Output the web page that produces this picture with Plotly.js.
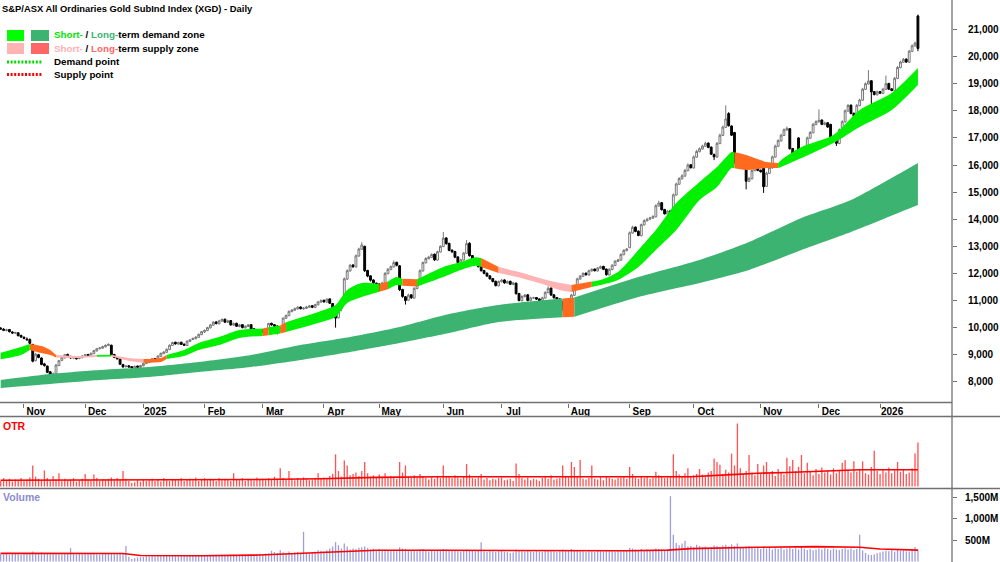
<!DOCTYPE html>
<html><head><meta charset="utf-8">
<script src="https://cdn.plot.ly/plotly-3.0.1.min.js"></script>
<style>html,body{margin:0;padding:0;background:#fff;}#chart{width:1000px;height:562px;}</style>
</head><body><div id="chart"></div>
<script>
// ---------- DATA ----------
const startDate = '2024-10-22', endDate = '2026-01-21';
const holidays = ['2024-12-25','2024-12-26','2025-01-01','2025-01-27','2025-04-18','2025-04-21','2025-04-25','2025-06-09','2025-12-25','2025-12-26','2026-01-01'];
const monthLabels = ['Nov','Dec','2025','Feb','Mar','Apr','May','Jun','Jul','Aug','Sep','Oct','Nov','Dec','2026'];
const priceTicks = [8000,9000,10000,11000,12000,13000,14000,15000,16000,17000,18000,19000,20000,21000];
const volumeTicks = [500,1000,1500];
const volumeTickLabels = ['500M','1,000M','1,500M'];

const priceOpen = [
9980,9940,9890,9930,9840,9790,9810,9710,9640,9580,
9560,9380,8780,9000,8880,8660,8580,8370,8240,8310,
8600,8790,8880,9010,8940,8870,8930,8860,8890,8960,
9010,8940,9040,9140,9230,9240,9290,9340,9350,9010,
8910,8840,8640,8560,8590,8560,8510,8580,8530,8590,
8670,8710,8790,8860,8830,8940,9040,9090,9190,9340,
9460,9390,9460,9390,9340,9490,9560,9590,9640,9740,
9840,9890,9990,10090,10210,10140,10240,10310,10190,10260,
10090,10160,10040,10110,9990,10040,10110,9960,9910,9840,
9910,9840,9940,10160,10110,10060,9890,10010,10340,10440,
10590,10640,10690,10760,10690,10710,10750,10810,10740,10840,
10940,11010,10940,11060,10890,10540,10360,10690,11000,11790,
12090,12310,12240,12640,12890,13000,12110,11910,11760,11640,
11610,11390,11640,11990,12140,12240,12410,12280,11410,11140,
11010,11210,11090,11440,11590,12090,12390,12540,12590,12710,
12490,12790,12990,13310,13110,12860,12810,12610,12390,12490,
12740,13110,12660,12510,12410,12260,12110,12010,11910,11810,
11710,11540,11690,11760,11640,11710,11590,11640,11260,10990,
11140,11210,10990,11090,11110,11060,10990,11090,11290,11460,
11210,11110,11060,10960,10740,10790,10840,11190,11540,11790,
11890,12010,11940,12090,12160,12090,12190,12260,12160,11940,
12140,12290,12440,12490,12690,12840,12950,13490,13710,13560,
13390,13790,13940,14010,14040,14090,14490,14610,14360,14190,
14310,14300,14890,15290,15490,15590,15790,16010,15890,16290,
16490,16590,16690,16810,16660,16390,16290,16790,17090,17390,
17900,17440,17200,16090,16110,16210,16100,15390,15490,15790,
15910,15810,16000,15210,15690,15890,16290,16690,16890,17090,
17290,17340,16610,16290,17000,16310,16390,16590,16990,17190,
17490,17590,17660,17490,17560,17500,17010,16910,16790,17290,
17590,17990,18210,17910,17790,18190,18390,18790,18990,19110,
18710,18590,18710,18640,18790,19010,18810,18740,19190,19590,
19790,19910,19790,20190,20390,21500];
const priceHigh = [
10020,9980,9960,9950,9870,9850,9830,9740,9680,9640,
9600,9400,9060,9030,8900,8700,8600,8400,8340,8650,
8800,8930,9030,9040,8960,8950,8950,8920,8980,9030,
9030,9080,9180,9250,9280,9330,9380,9420,9370,9030,
8950,8860,8660,8610,8610,8580,8600,8600,8630,8710,
8750,8830,8880,8880,8980,9080,9130,9230,9380,9480,
9480,9480,9480,9410,9530,9580,9630,9680,9780,9880,
9930,10030,10130,10240,10240,10290,10340,10330,10290,10280,
10190,10180,10130,10130,10080,10130,10130,9980,9930,9930,
9930,9980,10180,10180,10130,10080,10030,10380,10480,10630,
10680,10740,10790,10780,10760,10800,10830,10830,10880,10980,
11040,11030,11080,11080,10910,10600,10740,10940,11850,12150,
12350,12340,12700,12950,13150,13020,12130,11930,11780,11660,
11630,11690,12050,12200,12290,12480,12430,12300,11430,11160,
11250,11230,11490,11640,12150,12440,12600,12650,12740,12730,
12840,13040,13530,13330,13130,12880,12830,12630,12540,12790,
13230,13150,12680,12530,12430,12280,12130,12030,11930,11830,
11730,11740,11790,11780,11740,11730,11690,11660,11280,11190,
11240,11230,11140,11140,11130,11080,11140,11340,11520,11480,
11230,11130,11080,10980,10840,10890,11240,11590,11840,11940,
12040,12030,12140,12190,12180,12240,12290,12280,12180,12190,
12340,12490,12540,12740,12890,12940,13550,13760,13730,13580,
13840,13990,14050,14090,14150,14550,14680,14630,14380,14340,
14330,14950,15350,15550,15660,15860,16060,16030,16350,16560,
16650,16750,16860,16830,16680,16420,16850,17160,17460,18200,
17950,17460,17220,16250,16260,16230,16120,15560,15850,15950,
15930,15830,16020,15750,15950,16350,16750,16950,17150,17350,
17420,17360,16630,16550,17020,16450,16650,17050,17250,17550,
17650,18050,17680,17600,17580,17520,17030,16930,17350,17650,
18050,18250,18230,17930,18250,18450,18850,19050,19500,19130,
18730,18750,18730,18850,19300,19030,18830,19250,19650,19850,
19950,19930,20250,20450,20550,21550];
const priceLow = [
9920,9870,9860,9820,9770,9760,9680,9620,9570,9520,
9390,8720,8750,8870,8610,8560,8320,8180,8200,8290,
8580,8760,8860,8920,8850,8840,8820,8830,8870,8930,
8920,8920,9020,9120,9190,9220,9270,9320,8980,8870,
8820,8620,8520,8530,8520,8490,8500,8510,8520,8570,
8650,8690,8770,8790,8810,8920,9020,9070,9170,9320,
9370,9370,9360,9320,9330,9470,9540,9570,9620,9720,
9800,9870,9970,10070,10120,10120,10220,10170,10170,10070,
10060,10020,10010,9970,9970,10020,9920,9870,9820,9810,
9800,9820,9920,10070,10020,9750,9870,9990,10320,10420,
10570,10620,10670,10670,10660,10690,10730,10720,10720,10820,
10920,10920,10920,10870,10500,10000,10340,10600,10980,11760,
12070,12200,12220,12620,12870,12050,11860,11700,11610,11550,
11350,11370,11620,11970,12120,12220,12260,11350,11100,10850,
10990,11060,11070,11420,11570,12070,12370,12520,12570,12460,
12470,12770,12970,13060,12820,12750,12560,12350,12370,12470,
12720,12620,12470,12370,12220,12070,11970,11870,11770,11670,
11520,11520,11670,11620,11620,11570,11570,11220,10970,10970,
11120,10970,10970,11070,11020,10970,10970,11070,11270,11170,
11070,11020,10920,10620,10700,10770,10820,11170,11520,11770,
11870,11920,11920,12070,12070,12070,12170,12120,11920,11920,
12120,12270,12420,12470,12670,12820,12930,13470,13520,13370,
13370,13770,13920,13960,14020,14070,14470,14320,14170,14170,
14170,14280,14870,15270,15470,15570,15770,15870,15870,16270,
16470,16570,16670,16620,16370,16180,16270,16770,17070,17370,
17420,17070,16050,15950,16090,16020,15100,15370,15470,15770,
15770,15720,14970,15190,15670,15870,16270,16670,16870,17070,
17270,16570,16270,16270,16270,16290,16370,16570,16970,17170,
17470,17570,17470,17470,17370,16970,16870,16700,16770,17270,
17570,17970,17870,17770,17770,18170,18370,18770,18970,18150,
18570,18570,18620,18620,18770,18770,18720,18720,19170,19570,
19770,19770,19770,20170,20370,20200];
const priceClose = [
9950,9900,9920,9850,9800,9820,9700,9650,9600,9550,
9420,8760,9020,8900,8640,8600,8350,8250,8300,8620,
8780,8900,9000,8950,8880,8920,8850,8900,8950,9000,
8950,9050,9150,9220,9250,9300,9350,9380,9000,8900,
8850,8650,8550,8580,8550,8520,8570,8540,8600,8680,
8720,8800,8850,8820,8950,9050,9100,9200,9350,9450,
9400,9450,9380,9350,9500,9550,9600,9650,9750,9850,
9900,10000,10100,10200,10150,10250,10300,10200,10250,10100,
10150,10050,10100,10000,10050,10100,9950,9900,9850,9900,
9850,9950,10150,10100,10050,9900,10000,10350,10450,10600,
10650,10700,10750,10700,10720,10760,10800,10750,10850,10950,
11000,10950,11050,10900,10550,10350,10700,10900,11800,12100,
12300,12250,12650,12900,13050,12100,11900,11750,11650,11600,
11400,11650,12000,12150,12250,12400,12300,11400,11150,11000,
11200,11100,11450,11600,12100,12400,12550,12600,12700,12500,
12800,13000,13300,13100,12850,12800,12600,12400,12500,12750,
13100,12650,12500,12400,12250,12100,12000,11900,11800,11700,
11550,11700,11750,11650,11700,11600,11650,11250,11000,11150,
11200,11000,11100,11100,11050,11000,11100,11300,11450,11200,
11100,11050,10950,10750,10800,10850,11200,11550,11800,11900,
12000,11950,12100,12150,12100,12200,12250,12150,11950,12150,
12300,12450,12500,12700,12850,12900,13500,13700,13550,13400,
13800,13950,14000,14050,14100,14500,14600,14350,14200,14300,
14200,14900,15300,15500,15600,15800,16000,15900,16300,16500,
16600,16700,16800,16650,16400,16300,16800,17100,17400,17700,
17450,17100,16100,16100,16200,16050,15400,15500,15800,15900,
15800,15750,15200,15700,15900,16300,16700,16900,17100,17300,
17350,16600,16300,16500,16300,16400,16600,17000,17200,17500,
17600,17650,17500,17550,17400,17000,16900,16800,17300,17600,
18000,18200,17900,17800,18200,18400,18800,19000,19100,18700,
18600,18700,18650,18800,19000,18800,18750,19200,19600,19800,
19900,19800,20200,20400,20500,20300];

const otr = [
8,12,9,11,7,10,9,12,8,10,
13,30,14,11,9,23,12,9,15,10,
19,8,11,9,10,12,7,9,11,18,
10,9,17,12,8,10,9,11,13,9,
12,10,22,11,8,5,6,9,7,10,
8,9,11,8,10,7,12,9,8,11,
10,9,12,8,10,11,9,13,8,10,
12,9,11,10,8,12,9,11,10,8,
19,10,9,12,8,11,10,9,13,10,
11,9,12,10,14,11,26,12,10,22,
11,9,12,10,13,11,9,10,12,19,
11,13,12,15,18,46,22,14,37,30,
16,18,20,15,22,35,19,14,16,12,
17,14,19,12,15,13,11,35,20,30,
14,12,16,13,18,15,12,10,13,11,
14,12,30,15,14,12,16,13,11,14,
32,17,12,11,13,18,10,12,9,11,
10,12,13,9,10,11,8,33,18,12,
10,13,9,11,10,8,12,14,11,16,
10,11,12,30,15,13,35,28,14,38,
11,10,12,30,11,10,13,9,14,12,
11,10,12,13,14,11,28,18,13,11,
15,12,14,11,13,21,16,14,12,13,
15,46,22,17,15,19,26,14,16,18,
25,17,15,20,22,40,35,31,18,24,
20,47,30,90,26,18,22,45,20,16,
32,19,30,35,18,22,15,25,20,17,
41,29,38,22,28,45,19,34,21,16,
25,18,27,20,23,17,26,19,22,34,
38,24,20,36,21,25,36,19,17,28,
51,22,18,25,20,27,19,23,35,21,
24,18,20,26,47,63];

const volume = [ // millions
180,170,190,160,175,185,170,165,180,175,
190,230,200,185,210,195,180,200,175,190,
185,170,180,195,310,175,165,180,170,190,
185,175,180,170,165,185,175,180,200,190,
175,185,190,360,110,60,80,95,100,110,
120,125,130,120,135,125,130,140,135,130,
145,125,130,140,135,130,145,135,140,150,
145,140,150,145,155,150,160,155,150,160,
165,155,160,165,170,160,175,165,170,180,
175,185,190,250,220,200,260,215,190,230,
200,210,220,200,690,210,195,220,230,260,
250,240,260,300,350,450,380,300,420,350,
280,300,290,320,330,350,310,280,300,270,
290,260,280,270,250,260,240,330,300,290,
260,250,270,240,280,290,260,230,250,240,
260,270,290,280,260,250,270,240,230,260,
280,270,250,240,260,450,230,220,240,230,
220,240,250,230,220,200,210,280,260,240,
230,250,230,220,240,230,220,250,260,240,
230,220,240,280,260,250,290,270,250,240,
230,220,240,230,220,250,240,230,260,250,
240,230,250,240,260,270,320,300,280,260,
290,270,280,260,270,300,290,280,270,260,
1520,620,430,380,420,480,350,360,330,390,
360,340,350,320,330,380,360,340,370,390,
350,400,360,420,330,310,350,360,320,300,
340,290,350,300,330,280,310,290,320,280,
300,320,290,310,280,350,300,270,290,260,
280,300,280,310,290,270,300,280,270,290,
310,280,300,270,290,620,260,200,160,150,
170,190,210,230,250,240,260,230,270,250,
260,240,230,280,340,280];

const otrAvgDates = ['2024-10-22','2024-11-29','2024-12-31','2025-01-31','2025-02-28','2025-03-31','2025-04-30','2025-05-30','2025-06-30','2025-07-31','2025-08-29','2025-09-30','2025-10-20','2025-10-31','2025-11-14','2025-11-28','2025-12-19','2026-01-21'];
const otrAvg = [9,9,9,9,10,11,13,14,14,13,13,14,17,19,20,22,24,24];
const volAvgDates = ['2024-10-22','2024-11-29','2024-12-19','2024-12-31','2025-01-31','2025-02-28','2025-03-31','2025-04-30','2025-05-30','2025-06-30','2025-07-31','2025-08-29','2025-09-18','2025-09-30','2025-10-31','2025-11-28','2025-12-19','2026-01-02','2026-01-21'];
const volAvg = [190,190,185,140,135,150,200,260,260,255,245,250,265,300,330,345,330,290,265];

// Short-term zone: d = demand, s = supply, x = transition
const stDates = ['2024-10-22','2024-10-31','2024-11-05','2024-11-11','2024-11-14','2024-11-18','2024-11-28','2024-12-06','2024-12-13','2024-12-23',
 '2025-01-02','2025-01-10','2025-01-14','2025-01-22','2025-01-30','2025-02-10','2025-02-19','2025-03-03','2025-03-05','2025-03-11',
 '2025-03-13','2025-03-28','2025-04-07','2025-04-11','2025-04-22','2025-05-01','2025-05-06','2025-05-09','2025-05-13','2025-05-20',
 '2025-06-02','2025-06-11','2025-06-18','2025-06-20','2025-06-30','2025-07-09','2025-07-18','2025-07-29','2025-08-04','2025-08-13',
 '2025-08-18','2025-08-26','2025-09-04','2025-09-12','2025-09-23','2025-10-03','2025-10-13','2025-10-20','2025-10-21','2025-10-27',
 '2025-11-05','2025-11-11','2025-11-12','2025-11-21','2025-12-08','2025-12-19','2026-01-08','2026-01-21'];
const stUpper = [9075,9285,9395,9320,9174,8990,8950,8990,9000,8880,
 8840,8880,8990,9175,9430,9650,9910,9970,10010,10080,
 10200,10576,10835,11390,11646,11600,11700,11868,11800,11780,
 12237,12421,12600,12570,12237,12050,11831,11646,11572,11700,
 11757,12052,12864,13602,14598,15373,15927,16480,16470,16370,
 16111,16070,16180,16665,17108,18030,18657,19580];
const stLower = [8830,8990,9175,9060,8990,8900,8880,8925,8930,8770,
 8700,8730,8840,8950,9175,9360,9620,9690,9720,9780,
 9840,10170,10390,10910,11130,11320,11420,11572,11540,11520,
 11868,12126,12280,12240,12016,11850,11646,11388,11314,11500,
 11572,11757,12237,12864,13602,14709,15189,15890,15880,15816,
 15890,15890,15930,16259,16812,17403,18030,18952];
const stState = ['d','d','x','x','x','s','s','d','s','s',
 'x','x','d','d','d','d','d','x','d','x',
 'd','d','d','d','d','x','d','d','x','d',
 'd','d','d','x','s','s','s','s','x','d',
 'd','d','d','d','d','d','d','d','x','x',
 'x','d','d','d','d','d','d','d'];

const ltDates = ['2024-10-22','2024-11-14','2024-12-09','2025-01-06','2025-01-30','2025-02-25','2025-03-20','2025-04-14','2025-05-12','2025-06-04',
 '2025-06-30','2025-07-30','2025-08-05','2025-09-04','2025-10-03','2025-10-28','2025-11-21','2025-12-16','2026-01-13','2026-01-21'];
const ltUpper = [8067,8288,8436,8547,8731,8990,9359,9654,10023,10502,10835,11070,11110,11868,12495,13159,14045,14709,15705,16074];
const ltLower = [7772,7919,8067,8178,8362,8547,8805,9100,9432,9801,10207,10385,10400,11130,11646,12126,12864,13528,14266,14525];
const ltState = ['d','d','d','d','d','d','d','d','d','d','d','x','d','d','d','d','d','d','d','d'];

// ---------- BUILD ----------
const dates = [];
(function(){
  const hol = new Set(holidays);
  let t = Date.parse(startDate + 'T00:00:00Z');
  const end = Date.parse(endDate + 'T00:00:00Z');
  while (t <= end) {
    const d = new Date(t); const wd = d.getUTCDay(); const s = d.toISOString().slice(0,10);
    if (wd !== 0 && wd !== 6 && !hol.has(s)) dates.push(s);
    t += 86400000;
  }
})();
const pos = {}; dates.forEach((d,i)=>{pos[d]=i;});
const xi = dates.map((d,i)=>i);
const tickIdx = [];
for (let i=1;i<dates.length;i++) if (dates[i].slice(0,7)!==dates[i-1].slice(0,7)) tickIdx.push(i);

const W = 952, H = 562;
const PX = x => x / W, PY = y => 1 - y / H;

function bandTraces(nd, up, lo, st, colors, yaxis) {
  const xs = nd.map(d => pos[d]);
  const out = [];
  let s = 0;
  for (let i = 1; i <= xs.length; i++) {
    if (i === xs.length || st[i] !== st[s]) {
      const e = Math.min(i, xs.length - 1);
      const xr = xs.slice(s, e + 1);
      const ln = {width:0, shape:'spline', smoothing:0.7};
      out.push({type:'scatter', mode:'lines', x:xr, y:lo.slice(s, e + 1), line:ln, hoverinfo:'skip', showlegend:false, yaxis:yaxis});
      out.push({type:'scatter', mode:'lines', x:xr, y:up.slice(s, e + 1), line:ln, fill:'tonexty', fillcolor:colors[st[s]], hoverinfo:'skip', showlegend:false, yaxis:yaxis});
      s = i;
    }
  }
  return out;
}

const traces = [];
traces.push(...bandTraces(ltDates, ltUpper, ltLower, ltState, {d:'#3cb371', x:'#ff6a1f', s:'#ff6666'}, 'y'));
traces.push(...bandTraces(stDates, stUpper, stLower, stState, {d:'#00f000', x:'#ff6a1f', s:'#ffb3b3'}, 'y'));

traces.push({
  type:'candlestick', x:xi, open:priceOpen, high:priceHigh, low:priceLow, close:priceClose,
  increasing:{line:{color:'#777777', width:1}, fillcolor:'#ffffff'},
  decreasing:{line:{color:'#000000', width:1}, fillcolor:'#000000'},
  whiskerwidth:0, hoverinfo:'skip', showlegend:false, xaxis:'x', yaxis:'y'
});

traces.push({type:'bar', x:xi, y:otr, width:0.45, marker:{color:'#ff5252', line:{width:0}}, yaxis:'y2', hoverinfo:'skip', showlegend:false});
traces.push({type:'scatter', mode:'lines', x:otrAvgDates.map(d=>pos[d]), y:otrAvg, line:{color:'#ff0000', width:1.6}, yaxis:'y2', hoverinfo:'skip', showlegend:false});
traces.push({type:'bar', x:xi, y:volume, width:0.45, marker:{color:'#9e9edc', line:{width:0}}, yaxis:'y3', hoverinfo:'skip', showlegend:false});
traces.push({type:'scatter', mode:'lines', x:volAvgDates.map(d=>pos[d]), y:volAvg, line:{color:'#ff0000', width:1.6}, yaxis:'y3', hoverinfo:'skip', showlegend:false});

const SANS = '"Liberation Sans", Arial, sans-serif';
const tickFont = {family:SANS, size:10, color:'#000000', weight:'bold'};
const gridCol = '#707070';

function ann(x, y, text, size, color) {
  return {xref:'paper', yref:'paper', x:PX(x), y:PY(y), xanchor:'left', yanchor:'middle', showarrow:false,
          text:text, font:{family:SANS, size:size, color:color||'#000'}, borderpad:0};
}

const annotations = [
  ann(1, 8.5, '<b>S&P/ASX All Ordinaries Gold SubInd Index (XGD) - Daily</b>', 9.4),
  ann(53, 35, '<b><span style="color:#00e600">Short-</span> / <span style="color:#3cb371">Long-</span>term demand zone</b>', 9.8),
  ann(53, 48.5, '<b><span style="color:#ffb3b3">Short-</span> / <span style="color:#ff6666">Long-</span>term supply zone</b>', 9.8),
  ann(53, 62, '<b>Demand point</b>', 9.8),
  ann(53, 74.5, '<b>Supply point</b>', 9.8),
  ann(2, 426, '<b>OTR</b>', 10.5, '#ff0000'),
  ann(2, 497, '<b>Volume</b>', 10.5, '#8b8bd0')
];

function rect(x0,x1,y0,y1,c){return {type:'rect', xref:'paper', yref:'paper', x0:PX(x0), x1:PX(x1), y0:PY(y1), y1:PY(y0), fillcolor:c, line:{width:0}};}
function hline(y,x0,x1,c,w,dash){return {type:'line', xref:'paper', yref:'paper', x0:PX(x0), x1:PX(x1), y0:PY(y), y1:PY(y), line:{color:c, width:w, dash:dash||'solid'}};}

const shapes = [
  rect(7,24,30,41,'#00ff00'), rect(31,49,30,41,'#3cb371'),
  rect(7,24,43,54,'#ffb3b3'), rect(31,49,43,54,'#ff6666'),
  hline(62,7,43,'#00dd00',3,'2px,1.6px'), hline(74.5,7,43,'#ff0000',3,'2px,1.6px'),
  hline(402.5,0,952,gridCol,1.3), hline(416.5,0,1000,gridCol,1.3), hline(488.5,0,1000,gridCol,1.3),
  {type:'line', xref:'paper', yref:'paper', x0:1, x1:1, y0:0, y1:1, line:{color:gridCol, width:1.3}}
];

const layout = {
  width:1000, height:562, margin:{l:0, r:48, t:0, b:0, pad:0},
  paper_bgcolor:'#ffffff', plot_bgcolor:'#ffffff', showlegend:false,
  barmode:'overlay', boxgap:0.1, separators:'.,',
  xaxis:{range:[-0.24, 326.7], tickvals:tickIdx, ticktext:monthLabels, ticks:'outside', ticklen:4, tickcolor:gridCol,
         tickfont:tickFont, ticklabelshift:12, ticklabelstandoff:-5, showgrid:false, zeroline:false, showline:false,
         rangeslider:{visible:false}, anchor:'y', fixedrange:true},
  yaxis:{domain:[1-403/H, 1], range:[7218, 22089], side:'right', tickvals:priceTicks, tickformat:',d',
         ticks:'outside', ticklen:4, tickcolor:gridCol, tickfont:tickFont, ticklabelstandoff:9,
         showgrid:false, zeroline:false, showline:false, anchor:'x', fixedrange:true},
  yaxis2:{domain:[1-488/H, 1-417/H], range:[-2.14, 99.3], side:'right', showticklabels:false, ticks:'',
          showgrid:false, zeroline:false, showline:false, anchor:'x', fixedrange:true},
  yaxis3:{domain:[0, 1-489/H], range:[-11.6, 1686], side:'right', tickvals:volumeTicks, ticktext:volumeTickLabels,
          ticks:'outside', ticklen:4, tickcolor:gridCol, tickfont:tickFont, ticklabelstandoff:6,
          showgrid:false, zeroline:false, showline:false, anchor:'x', fixedrange:true},
  annotations:annotations, shapes:shapes
};

Plotly.newPlot('chart', traces, layout, {staticPlot:true, displayModeBar:false});
</script>
</body></html>
